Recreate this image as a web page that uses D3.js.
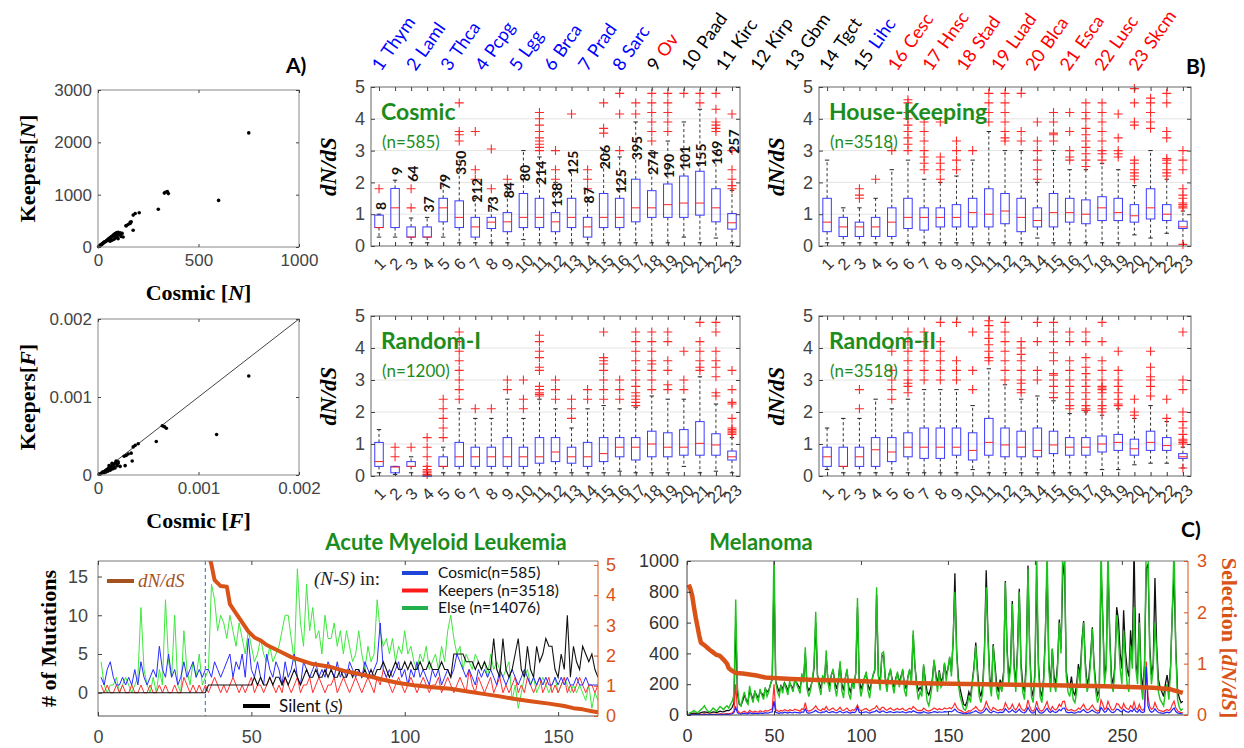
<!DOCTYPE html>
<html><head><meta charset="utf-8">
<script src="https://cdn.jsdelivr.net/npm/d3@7"></script>
<style>body{margin:0;background:#fff}</style>
</head><body>
<svg id="c" width="1244" height="748"></svg>
<script>
// ---------------- DATA ----------------
const cats = [1,2,3,4,5,6,7,8,9,10,11,12,13,14,15,16,17,18,19,20,21,22,23];
const tumorNames = ["Thym","Laml","Thca","Pcpg","Lgg","Brca","Prad","Sarc","Ov","Paad","Kirc","Kirp","Gbm","Tgct","Lihc","Cesc","Hnsc","Stad","Luad","Blca","Esca","Lusc","Skcm"];
const numGroup  = ["lo","lo","lo","lo","lo","lo","lo","lo","mid","mid","mid","mid","mid","mid","mid","hi","hi","hi","hi","hi","hi","hi","hi"];
const nameGroup = ["lo","lo","lo","lo","lo","lo","lo","lo","hi","mid","mid","mid","mid","mid","lo","hi","hi","hi","hi","hi","hi","hi","hi"];

// Panel A scatter (N)
const scNx = [750,600,330,335,345,350,300,205,185,175,165,160,150,140,175,120,110,100,95,90,85,80,75,70,65,60,55,50,45,40,35,30,25,20,15,10,5,3,8,12,18,22,28,32,38,42,48,52,58,62,68,72,78,82,88,92,98,105,115,125,80,60,70,90,100,160,140,95,110,85];
const scNy = [2180,890,1030,1045,1060,1020,720,655,640,610,480,450,430,410,320,260,230,280,270,260,250,240,220,200,190,170,160,140,130,110,100,90,70,55,40,30,15,8,20,35,50,65,80,95,105,120,135,150,165,180,195,210,230,245,255,265,270,240,200,190,150,110,130,180,160,470,400,200,270,210];
// Panel A scatter (F)
const scFx = [0.0015,0.00118,0.00066,0.00068,0.00064,0.00058,0.0004,0.00037,0.00035,0.00034,0.00033,0.0003,0.00028,0.00026,0.00027,0.0002,0.00018,0.00017,0.00016,0.00015,0.00014,0.00013,0.00012,0.00011,0.0001,0.00009,0.00008,0.00007,0.00006,0.00005,0.00004,0.00003,0.00002,0.00001,0.00019,0.00017,0.00015,0.00013,0.0002,0.00018,0.00014,0.00011,0.00016,0.00012,0.0001,0.00008,0.00006,0.00022,0.00019];
const scFy = [0.00127,0.00052,0.00062,0.0006,0.00063,0.00043,0.0004,0.00038,0.00036,0.00018,0.00028,0.00027,0.00025,0.00024,0.00012,0.00017,0.00016,0.00015,0.00014,0.00013,0.00012,0.00011,0.0001,0.00009,0.00008,0.00007,0.00006,0.00005,0.00004,0.00004,0.00003,0.00002,0.00001,0.00001,0.00012,0.00009,0.00008,0.00007,0.00015,0.00018,0.00015,0.00012,0.0001,0.00006,0.00005,0.00004,0.00003,0.00011,0.00014];

// Panel B boxplots: Cosmic
const cosQ1 = [0.58,0.58,0.28,0.28,0.76,0.58,0.28,0.55,0.45,0.58,0.58,0.45,0.58,0.28,0.58,0.58,0.76,0.9,0.9,0.9,0.97,0.76,0.53];
const cosMed = [0.58,1.2,0.28,0.28,1.2,0.9,0.6,0.75,0.76,0.9,0.9,0.76,0.9,0.6,0.9,0.9,1.2,1.2,1.3,1.35,1.35,1.2,0.73];
const cosQ3 = [0.97,1.81,0.6,0.6,1.5,1.42,0.9,0.9,1.05,1.65,1.5,1.05,1.5,0.9,1.65,1.5,2.1,1.74,1.95,2.2,2.35,1.8,1.02];
const cosLo = [0.28,0.28,0.1,0.1,0.28,0.1,0.1,0.1,0.1,0.2,0.1,0.1,0.1,0.1,0.1,0.1,0.1,0.1,0.1,0.28,0.1,0.25,0.1];
const cosHi = [1.0,2.07,0.88,0.9,2.2,2.8,1.5,1.5,1.8,3.0,2.8,2.0,2.4,1.5,3.0,2.8,3.9,3.0,3.3,3.9,4.3,3.0,1.75];
const cosOut = [[1.8],[],[1.2,1.8],[],[],[3.3,3.5,3.6,4.5],[2.1,2.4,3.6],[1.8,3.05],[2.1],[],[3.0,3.1,3.2,3.3,3.4,3.6,3.8,4.0,4.2],[2.1,2.4,3.0],[4.15],[1.8,2.1,2.4],[3.55,3.7,4.5],[3.0,4.15,4.8],[4.15,4.5],[3.3,3.6,3.9,4.2,4.5,4.8],[3.6,3.9,4.2,4.5,4.8],[4.8],[4.5,4.8],[3.6,3.7,3.8,3.9,4.3,4.8],[1.8,1.9,2.1,2.4,3.0,4.15]];
const cosCounts = [8,9,64,37,79,350,212,73,84,80,214,138,125,87,206,125,395,274,190,101,155,169,257];
const cosCountLevel = [1.13,2.23,2.02,1.05,1.76,2.23,1.37,1.05,1.5,2.04,1.92,1.23,2.23,1.34,2.41,1.65,2.7,2.23,2.13,2.39,2.46,2.55,2.9];
// House-Keeping
const hkQ1 = [0.45,0.3,0.3,0.3,0.3,0.55,0.5,0.6,0.6,0.6,0.6,0.7,0.45,0.6,0.6,0.75,0.7,0.8,0.8,0.75,0.85,0.8,0.55];
const hkMed = [0.75,0.6,0.6,0.6,0.75,0.9,0.9,0.9,0.9,1.05,1.0,1.1,0.9,0.8,1.05,1.05,1.0,1.2,1.05,0.95,1.2,1.0,0.6];
const hkQ3 = [1.5,0.9,0.75,0.9,1.2,1.5,1.2,1.2,1.3,1.5,1.8,1.65,1.5,1.2,1.65,1.5,1.45,1.55,1.5,1.3,1.8,1.3,0.78];
const hkLo = [0.1,0.1,0.1,0.1,0.1,0.1,0.1,0.1,0.1,0.1,0.1,0.1,0.1,0.25,0.1,0.1,0.1,0.1,0.1,0.35,0.25,0.4,0.05];
const hkHi = [2.7,1.2,1.2,1.5,2.4,2.7,2.1,2.0,2.2,2.7,3.6,3.0,3.0,2.0,3.0,2.4,2.4,2.6,2.4,1.9,3.0,2.1,1.1];
const hkOut = [[],[],[1.5,1.6,1.8],[2.1],[3.0],[3.0,3.2,3.4,3.6,3.8,4.0,4.2,4.5,4.6],[2.4,2.6,2.8,3.0,3.3,3.6,3.9],[2.1,2.4,2.6,2.8,3.9],[2.4,2.7,3.0,3.3],[3.0],[3.9,4.2,4.5,4.8],[3.3,3.4,3.6,3.9,4.2,4.5,4.8],[3.3,3.6,4.8],[2.1,2.4,2.7,3.0,3.3,3.9],[3.3,3.5,3.55,3.9,4.2],[2.7,2.8,3.0,3.6,4.2],[2.5,2.7,2.9,3.1,3.3,3.5,3.7,4.0,4.2,4.5],[2.7,2.9,3.0,3.3,3.6,3.9,4.2,4.5],[2.8,2.9,3.0,3.4,4.15],[2.1,2.2,2.3,2.4,2.6,2.7,3.8,3.9,4.5,4.95],[3.7,3.9,4.2,4.5,4.65],[2.2,2.3,2.4,2.6,2.7,2.75,3.4,3.6,4.5,4.8],[0.05,1.2,1.25,1.3,1.35,1.5,1.6,1.8,2.4,2.7,3.0]];
// Random-I
const r1Q1 = [0.3,0.1,0.3,0.02,0.3,0.3,0.3,0.3,0.3,0.3,0.4,0.45,0.4,0.3,0.45,0.6,0.5,0.6,0.6,0.65,0.65,0.65,0.5];
const r1Med = [0.45,0.28,0.3,0.02,0.3,0.6,0.6,0.6,0.6,0.6,0.6,0.75,0.6,0.6,0.7,0.9,0.9,1.0,0.9,0.9,1.02,0.97,0.6];
const r1Q3 = [1.05,0.3,0.45,0.02,0.6,1.05,0.9,0.9,1.2,0.9,1.2,1.2,0.9,1.05,1.2,1.2,1.2,1.4,1.35,1.45,1.7,1.32,0.78];
const r1Lo = [0.1,0.05,0.1,0.02,0.1,0.1,0.1,0.1,0.1,0.1,0.1,0.1,0.1,0.1,0.1,0.15,0.1,0.1,0.1,0.3,0.1,0.15,0.1];
const r1Hi = [1.45,0.3,0.6,0.02,0.9,2.1,1.8,1.8,2.4,1.8,2.4,2.1,1.5,2.1,2.2,2.1,2.15,2.5,2.4,2.4,3.1,2.25,1.2];
const r1Out = [[],[0.6,0.9],[0.9],[0.05,0.1,0.15,0.2,0.3,0.6,0.9,1.2],[1.2,1.5,1.8,2.1,2.4],[2.4,2.7,3.0,3.3,3.6,3.9,4.2,4.5],[2.1],[2.1],[2.7,3.0],[2.1,2.4,3.0],[2.5,2.55,2.6,2.7,2.8,3.3,3.4,3.7,3.9,4.2,4.4],[2.4,2.7,3.0],[1.8,2.1,2.4],[2.4,2.7],[2.4,2.7,3.0,3.3,3.5,3.6,3.7,4.5],[2.4,2.7,3.0],[2.2,2.3,2.4,2.5,2.6,2.8,3.0,3.3,3.6,3.9,4.2,4.5],[2.7,3.0,3.3,3.5,3.6,3.9,4.2,4.5],[2.7,2.85,3.3,3.6,4.2,4.5],[2.7,3.0,3.9],[3.3,3.4,3.6,3.9,4.2,4.8],[2.5,2.6,3.1,3.4,3.6,3.9,4.5,4.8],[1.3,1.35,1.4,1.45,1.5,1.8,2.25,2.3,2.7,3.3]];
// Random-II
const r2Q1 = [0.3,0.3,0.3,0.3,0.45,0.6,0.55,0.55,0.65,0.5,0.65,0.6,0.6,0.6,0.7,0.65,0.65,0.75,0.8,0.65,0.8,0.8,0.55];
const r2Med = [0.6,0.3,0.6,0.82,0.75,0.9,0.9,0.9,0.9,0.8,1.05,0.97,0.9,0.8,0.97,0.9,0.9,1.0,1.05,0.85,1.05,0.95,0.6];
const r2Q3 = [0.9,0.9,0.9,1.2,1.2,1.35,1.5,1.5,1.5,1.35,1.8,1.5,1.4,1.5,1.4,1.2,1.2,1.25,1.3,1.15,1.4,1.2,0.7];
const r2Lo = [0.2,0.1,0.1,0.1,0.1,0.1,0.1,0.1,0.1,0.2,0.1,0.1,0.1,0.1,0.1,0.1,0.1,0.2,0.2,0.35,0.4,0.4,0.25];
const r2Hi = [1.5,1.8,1.8,2.4,2.1,2.4,2.7,2.7,2.7,2.2,3.35,2.85,2.4,2.5,2.35,1.95,2.0,1.9,2.1,1.8,2.2,1.7,0.9];
const r2Out = [[],[],[2.1,2.7],[],[2.4,2.7,3.0,3.3,3.9],[2.6,2.8,2.9,3.0,3.3,3.6,3.9,4.2,4.5],[3.0,3.3,3.6,3.9,4.2,4.5],[3.0,3.3,3.6,3.9,4.2,4.8],[3.0,3.3,3.6,4.8],[2.7,3.3,4.5],[3.6,3.7,3.9,4.1,4.3,4.5,4.7,4.85],[3.0,3.3,3.6,3.9,4.2,4.5,4.8],[2.6,2.7,2.9,3.0,3.3,3.6,3.8,4.0,4.2],[3.0,3.3,4.2,4.8],[2.45,2.6,2.8,3.0,3.15,3.2,3.6,3.85,4.2,4.5,4.8],[2.1,2.2,2.4,2.6,2.8,3.0,3.3,3.6,4.2,4.5],[2.05,2.1,2.2,2.4,2.6,2.8,3.0,3.2,3.4,3.7,4.2,4.5],[2.0,2.1,2.2,2.4,2.6,2.7,2.75,2.8,3.0,3.3,3.6,4.2,4.8],[2.2,2.25,2.4,2.6,2.8,3.0,3.3,3.9],[1.9,2.0,2.4],[2.5,2.8,3.0,3.1,3.4,3.9],[1.8,2.4],[0.25,1.0,1.05,1.1,1.15,1.3,1.5,1.7,2.0,2.7,3.0,4.5]];

// Panel C: AML (x = 1..163), (N-S) counts
const amlElse = [4,1,0,1,1,2,0,1,2,1, 0,1,2,11,3,1,0,2,0,3, 1,12,4,2,10,1,0,8,3,1, 4,2,5,1,2,
 3,14,12,8,10,9,7,10,8,6, 9,7,5,8,6,4,5,7,5,4, 6,4,5,6,8,10,10,7,4,16, 9,6,14,8,11,7,8,5,10,7,
 7,9,6,8,5,8,6,4,5,8, 5,3,6,4,5,12,8,6,7,5, 7,4,6,5,8,5,6,4,3,5, 4,6,3,4,5,3,6,4,8,10,
 7,5,6,3,5,4,3,5,4,3, 4,2,5,3,4,3,2,3,4,-1, 1,-2,0,2,3,1,2,0,1,2, 1,0,1,2,0,1,2,1,0,1, 0,1,0,-1,1,-2,0,-1];
const amlCosmic = [2,1,3,4,2,1,1,2,1,2, 1,3,1,4,2,1,2,3,2,6, 3,2,5,2,3,1,2,4,2,3, 4,2,3,2,3,
 3,2,4,3,2,3,4,5,2,4, 3,5,2,7,3,2,4,2,1,5, 3,2,4,3,1,4,2,3,5,2, 1,4,3,2,3,4,2,3,2,4,
 3,2,4,2,3,2,4,3,2,3, 2,4,3,2,3,4,9,3,2,3, 2,3,4,2,3,1,3,2,4,2, 3,2,1,3,2,3,1,2,3,2,
 3,5,4,3,2,3,2,1,3,2, 3,2,3,2,1,3,2,1,2,3, 2,1,2,3,2,1,2,1,2,1, 2,1,1,2,1,2,1,2,1,1, 2,1,1,2,1,1,1,1];
const amlKeepers = [1,0,1,0,0,1,0,1,0,0, 1,0,0,1,0,0,1,0,0,1, 0,1,0,0,1,0,0,2,1,0, 1,0,1,0,1,
 0,1,2,1,0,1,0,1,2,1, 0,1,0,1,2,0,1,1,0,1, 2,1,0,1,0,2,1,0,1,2, 0,1,1,2,0,1,2,1,0,1,
 1,2,0,1,2,1,0,1,2,1, 0,1,2,1,0,2,1,3,2,1, 0,1,2,1,0,1,2,1,0,1, 2,1,0,1,1,2,0,1,2,1,
 0,1,2,1,0,3,1,0,2,1, 0,1,2,0,1,2,0,1,0,1, 2,0,1,0,2,1,0,1,2,0, 1,2,0,1,0,1,2,0,1,0, 1,2,1,0,1,1,0,1];
// silent S, x = 0..163
const amlSilent = [0,0,0,0,0,0,0,0,0,0, 0,0,0,0,0,0,0,0,0,0, 0,0,0,0,0,0,0,0,0,0, 0,0,0,0,0,0,
 1,1,1,1,1,1,1,1,1,1,1,1,1,1,1, 2,1,2,1,1,2,1,2,2,1, 2,1,2,3,2,1,2,3,2,2, 3,2,2,3,2,3,2,2,3,2,
 2,3,2,3,3,2,3,2,3,2, 3,3,4,3,2,3,4,3,3,4, 3,4,3,3,4,3,3,4,3,3, 3,4,3,3,2,5,5,5,5,4,
 4,4,3,4,3,4,3,3,7,3, 2,7,3,2,3,5,7,3,2,6, 3,2,6,4,5,7,6,6,3,2, 5,3,10,2,6,4,3,6,5,4, 5,3,2];
const amlRatioX = [36,37,38,39,40,42,43,45,47,49,51,53,55,57,60,63,66,70,76,80,87,93,98,103,109,115,120,125,131,136,141,147,152,155,158,161,163];
const amlRatioY = [5.4,5.0,4.5,4.4,4.3,4.28,3.7,3.4,3.1,2.8,2.6,2.5,2.35,2.25,2.1,1.95,1.85,1.72,1.62,1.5,1.35,1.2,1.09,1.02,0.95,0.9,0.82,0.74,0.65,0.56,0.49,0.41,0.33,0.26,0.22,0.16,0.12];

// Panel C: Melanoma (x = 1..285)
const melElse = [10,15,20,30,20,15,25,35,45,60, 40,25,20,30,45,35,25,40,55,45, 35,50,60,45,70,90,130,750,180,80,
 60,110,150,90,70,190,120,80,160,110, 90,170,130,100,180,120,150,200,240,1100, 210,150,120,190,140,210,170,130,220,180,
 150,240,200,170,140,270,210,440,170,120, 160,230,320,670,250,180,130,260,200,420, 210,150,260,300,180,120,220,350,160,110,
 240,300,140,100,210,170,280,760,200,120, 180,240,280,160,110,200,260,300,830,250, 160,400,410,220,150,260,300,200,140,230,
 280,180,240,300,160,120,250,300,200,550, 330,180,100,150,120,330,200,90,60,120, 200,360,250,150,280,180,200,340,220,300,
 380,250,500,800,400,200,120,80,40,30, 60,120,80,200,300,450,250,120,80,150, 400,830,500,200,120,450,300,150,100,200,
 150,250,860,400,200,300,720,300,150,400, 800,300,150,100,300,950,400,120,80,250, 1100,300,120,80,200,500,1100,300,150,430,
 200,150,300,600,400,1100,1100,250,150,120, 200,100,80,150,300,200,450,600,300,150, 200,350,560,300,150,80,120,1100,600,200,
 300,1100,500,200,150,300,650,500,300,200, 550,350,200,150,450,300,700,300,200,600, 200,100,300,1100,1100,400,200,300,600,400,
 150,100,80,60,150,200,100,300,700,1100, 400,100,50,30,40];
const melSilent = [5,8,10,12,10,8,10,15,18,20, 18,15,12,15,20,18,15,20,25,22, 20,25,30,28,35,50,80,600,140,70,
 60,90,130,100,80,160,130,100,150,130, 110,150,140,120,170,150,160,200,230,900, 220,180,150,190,170,210,190,160,200,190,
 170,220,210,190,170,250,220,400,190,160, 180,220,300,600,260,210,170,250,220,380, 230,190,260,290,210,170,230,330,200,160,
 240,290,180,150,210,200,270,700,230,170, 200,240,270,200,160,210,260,290,780,260, 200,380,390,240,190,260,290,230,180,240,
 270,210,250,290,200,170,250,290,230,520, 320,210,160,180,160,320,230,150,130,170, 230,350,270,200,290,220,240,330,260,300,
 370,280,480,920,420,240,170,120,70,60, 90,150,120,220,320,470,290,160,120,190, 430,940,530,250,160,460,330,200,150,230,
 190,280,870,430,240,330,740,330,200,430, 820,340,200,150,340,970,430,170,120,280, 900,340,160,120,240,530,950,340,190,430,
 250,200,330,620,430,900,1000,290,200,180, 250,150,130,200,330,250,480,610,340,200, 240,380,570,330,200,130,160,950,640,250,
 330,980,530,250,200,330,700,620,400,300, 680,420,300,250,550,380,1100,340,260,660, 270,170,330,950,980,450,260,330,890,450,
 230,180,150,120,200,260,170,320,680,900, 430,160,110,80,90];
const melKeepers = [2,3,4,5,4,3,4,5,6,8, 6,5,4,5,6,5,4,6,8,7, 6,8,9,8,10,15,25,200,30,15,
 12,20,25,18,15,30,22,18,25,20, 18,28,22,20,30,25,28,35,40,200, 35,28,22,30,25,35,30,25,35,30,
 28,38,33,30,25,40,35,80,30,25, 28,35,45,60,40,32,28,40,35,55, 35,30,40,45,32,28,38,50,32,28,
 38,45,30,25,35,30,42,65,35,28, 32,38,42,32,26,34,40,45,60,40, 32,50,50,36,30,40,45,36,30,38,
 42,34,38,44,32,28,38,44,36,55, 45,34,28,30,28,45,36,28,25,30, 36,45,40,32,42,35,36,45,40,42,
 48,40,55,76,50,36,30,25,18,15, 20,28,25,35,42,55,40,28,25,32, 50,87,60,36,28,50,42,32,28,36,
 32,40,80,55,36,45,70,45,32,50, 75,45,32,28,45,98,55,30,25,40, 90,45,28,25,36,60,87,45,32,55,
 38,32,45,70,55,87,90,40,32,30, 36,28,25,32,45,36,55,70,45,32, 36,50,65,45,32,25,30,98,70,36,
 45,90,60,36,32,45,75,70,50,40, 75,50,40,36,60,45,85,45,36,70, 40,30,45,348,120,55,36,45,80,50,
 32,28,25,22,30,36,28,40,70,90, 45,28,20,15,15];
const melCosmic = [1,2,2,3,2,2,2,3,3,4, 3,3,2,3,3,3,2,3,4,4, 3,4,5,4,5,8,15,50,15,8,
 6,10,12,9,8,15,11,9,12,10, 9,14,11,10,15,12,14,18,20,90, 18,14,11,15,12,18,15,12,18,15,
 14,19,16,15,12,20,18,40,15,12, 14,18,22,30,20,16,14,20,18,28, 18,15,20,22,16,14,19,25,16,14,
 19,22,15,12,18,15,21,50,18,14, 16,19,21,16,13,17,20,22,30,20, 16,25,25,18,15,20,22,18,15,19,
 21,17,19,22,16,14,19,22,18,28, 22,17,14,15,14,22,18,14,12,15, 18,22,20,16,21,18,18,22,20,21,
 24,20,28,38,25,18,15,12,9,8, 10,14,12,18,21,28,20,14,12,16, 25,44,30,18,14,25,21,16,14,18,
 16,20,40,28,18,22,35,22,16,25, 38,22,16,14,22,49,28,15,12,20, 45,22,14,12,18,30,44,22,16,28,
 19,16,22,35,28,44,45,20,16,15, 18,14,12,16,22,18,28,35,22,16, 18,25,32,22,16,12,15,49,35,18,
 22,45,30,18,16,22,38,35,25,20, 38,25,20,18,30,22,42,22,18,35, 20,15,22,315,60,28,18,22,40,25,
 16,14,12,11,15,18,14,20,35,45, 22,14,10,8,8];
const melRatioX = [1,2,3,4,5,6,7,8,10,13,15,17,19,21,23,24,26,28,32,36,40,45,50,60,75,89,110,134,170,210,240,268,278,285];
const melRatioY = [2.54,2.45,2.32,2.1,1.9,1.73,1.55,1.41,1.36,1.27,1.22,1.17,1.15,1.08,1.0,0.91,0.86,0.82,0.81,0.79,0.77,0.73,0.72,0.70,0.68,0.67,0.65,0.62,0.6,0.58,0.56,0.53,0.5,0.43];

// ---------------- DRAWING ----------------
const svg = d3.select('#c');
svg.append('rect').attr('width',1244).attr('height',748).attr('fill','#fff');
const SANS = "'Liberation Sans', Arial, sans-serif";
const SERIF = "'Liberation Serif', 'Times New Roman', serif";
const CAL = "Lato, 'Open Sans', sans-serif";
const GREEN = '#1c8c1c', ORANGE = '#D95319';
const groupColor = {lo:'#0000ff', mid:'#000000', hi:'#ff0000'};
const intFmt = d3.format('d');

function styleAxis(sel, color, size){
  sel.select('.domain').remove();
  sel.selectAll('.tick line').attr('stroke', color || '#444');
  sel.selectAll('.tick text').attr('fill', color || '#262626')
     .style('font-family', SANS).style('font-size', (size||16)+'px');
}
function frame(g, P, color){
  g.append('rect').attr('x',P.L).attr('y',P.T).attr('width',P.R-P.L).attr('height',P.B-P.T)
   .attr('fill','none').attr('stroke',color||'#777').attr('stroke-width',1);
}

// ----- scatter panels (A)
function scatterPanel(P){
  const g = svg.append('g');
  const x = d3.scaleLinear().domain(P.xd).range([P.L,P.R]);
  const y = d3.scaleLinear().domain(P.yd).range([P.B,P.T]);
  if (P.diag) g.append('line').attr('x1',x(P.xd[0])).attr('y1',y(P.yd[0])).attr('x2',x(P.xd[1])).attr('y2',y(P.yd[1]))
     .attr('stroke','#444').attr('stroke-width',1);
  g.selectAll('circle').data(P.xs).join('circle')
   .attr('cx',d=>x(d)).attr('cy',(d,i)=>y(P.ys[i])).attr('r',1.8).attr('fill','#000');
  frame(g,P,'#888');
  const fmt = d => d===0 ? '0' : String(d);
  g.append('g').attr('transform',`translate(${P.L},0)`)
   .call(d3.axisLeft(y).tickValues(P.yt).tickFormat(fmt).tickSizeInner(-3).tickSizeOuter(0).tickPadding(6)).call(styleAxis,'#444',17);
  g.append('g').attr('transform',`translate(0,${P.B})`)
   .call(d3.axisBottom(x).tickValues(P.xt).tickFormat(fmt).tickSizeInner(-3).tickSizeOuter(0).tickPadding(7)).call(styleAxis,'#444',17);
  g.append('g').attr('transform',`translate(${P.R},0)`)
   .call(d3.axisRight(y).tickValues(P.yt).tickFormat('').tickSizeInner(-3).tickSizeOuter(0)).call(styleAxis,'#444');
  g.append('g').attr('transform',`translate(0,${P.T})`)
   .call(d3.axisTop(x).tickValues(P.xt).tickFormat('').tickSizeInner(-3).tickSizeOuter(0)).call(styleAxis,'#444');
  const yl = g.append('text').attr('transform',`translate(35,${(P.T+P.B)/2}) rotate(-90)`)
    .attr('text-anchor','middle').style('font-family',SERIF).style('font-weight','bold').style('font-size','22px');
  yl.append('tspan').text('Keepers[');
  yl.append('tspan').style('font-style','italic').text(P.v);
  yl.append('tspan').text(']');
  const xl = g.append('text').attr('x',(P.L+P.R)/2).attr('y',P.xlabY).attr('text-anchor','middle')
    .style('font-family',SERIF).style('font-weight','bold').style('font-size','22px');
  xl.append('tspan').text('Cosmic [');
  xl.append('tspan').style('font-style','italic').text(P.v);
  xl.append('tspan').text(']');
}
scatterPanel({L:98,R:299,T:90,B:247,xd:[0,1000],yd:[0,3000],xt:[0,500,1000],yt:[0,1000,2000,3000],xs:scNx,ys:scNy,v:'N',xlabY:300});
scatterPanel({L:98,R:299,T:319,B:475,xd:[0,0.002],yd:[0,0.002],xt:[0,0.001,0.002],yt:[0,0.001,0.002],xs:scFx,ys:scFy,v:'F',xlabY:528,diag:true});

// ----- box panels (B)
function boxPanel(P){
  const g = svg.append('g');
  const x = d3.scaleLinear().domain([0.5,23.5]).range([P.L,P.R]);
  const y = d3.scaleLinear().domain([0,5]).range([P.B,P.T]);
  g.selectAll('line.grid').data([1,2,3,4]).join('line').attr('class','grid')
   .attr('x1',P.L).attr('x2',P.R).attr('y1',d=>y(d)).attr('y2',d=>y(d)).attr('stroke','#e4e4e4');
  const bw = 8.5, cap = 2.2;
  const items = cats.map((c,i)=>({c, q1:P.q1[i], med:P.med[i], q3:P.q3[i], lo:P.lo[i], hi:P.hi[i], out:P.out[i]}));
  const bx = g.selectAll('g.box').data(items).join('g').attr('class','box');
  bx.append('line').attr('x1',d=>x(d.c)).attr('x2',d=>x(d.c)).attr('y1',d=>y(d.q3)).attr('y2',d=>y(d.hi))
    .attr('stroke','#333').attr('stroke-dasharray','3,2.5');
  bx.append('line').attr('x1',d=>x(d.c)).attr('x2',d=>x(d.c)).attr('y1',d=>y(d.q1)).attr('y2',d=>y(d.lo))
    .attr('stroke','#333').attr('stroke-dasharray','3,2.5');
  bx.append('line').attr('x1',d=>x(d.c)-cap).attr('x2',d=>x(d.c)+cap).attr('y1',d=>y(d.hi)).attr('y2',d=>y(d.hi)).attr('stroke','#222');
  bx.append('line').attr('x1',d=>x(d.c)-cap).attr('x2',d=>x(d.c)+cap).attr('y1',d=>y(d.lo)).attr('y2',d=>y(d.lo)).attr('stroke','#222');
  bx.append('rect').attr('x',d=>x(d.c)-bw/2).attr('y',d=>y(d.q3)).attr('width',bw).attr('height',d=>Math.max(1,y(d.q1)-y(d.q3)))
    .attr('fill','none').attr('stroke','#3b3bff').attr('stroke-width',1);
  bx.append('line').attr('x1',d=>x(d.c)-bw/2).attr('x2',d=>x(d.c)+bw/2).attr('y1',d=>y(d.med)).attr('y2',d=>y(d.med))
    .attr('stroke','#ff2020').attr('stroke-width',1);
  bx.selectAll('path.out').data(d=>d.out.map(v=>({c:d.c,v}))).join('path').attr('class','out')
    .attr('d',d=>`M${x(d.c)-4.5},${y(d.v)}h9M${x(d.c)},${y(d.v)-4.5}v9`).attr('stroke','#ff2a2a').attr('stroke-width',1.1);
  frame(g,P,'#666');
  g.append('g').attr('transform',`translate(${P.L},0)`)
   .call(d3.axisLeft(y).tickValues([0,1,2,3,4,5]).tickFormat(intFmt).tickSizeInner(-4).tickSizeOuter(0).tickPadding(6)).call(styleAxis,'#444',18);
  g.append('g').attr('transform',`translate(${P.R},0)`)
   .call(d3.axisRight(y).tickValues([0,1,2,3,4,5]).tickFormat('').tickSizeInner(-4).tickSizeOuter(0)).call(styleAxis,'#444');
  g.append('g').attr('transform',`translate(0,${P.T})`)
   .call(d3.axisTop(x).tickValues(cats).tickFormat('').tickSizeInner(-4).tickSizeOuter(0)).call(styleAxis,'#444');
  const ax = g.append('g').attr('transform',`translate(0,${P.B})`)
   .call(d3.axisBottom(x).tickValues(cats).tickFormat(intFmt).tickSizeInner(-4).tickSizeOuter(0)).call(styleAxis,'#333',16.5);
  ax.selectAll('.tick text').attr('y',0).attr('dy',0).attr('transform','translate(4,22) rotate(-45)').style('text-anchor','middle');
  g.append('text').attr('x',P.L+10).attr('y',P.T+33).text(P.title)
   .style('font-family',CAL).style('font-weight','bold').style('font-size','23px').attr('fill',GREEN);
  g.append('text').attr('x',P.L+11).attr('y',P.T+61).text(P.n)
   .style('font-family',CAL).style('font-size','17px').attr('fill',GREEN);
  if (P.counts){
    g.selectAll('text.cnt').data(P.counts).join('text').attr('class','cnt')
     .attr('transform',(d,i)=>`translate(${x(cats[i])+1.5},${y(P.countLevel[i])}) rotate(-90)`)
     .attr('dy','0.36em').text(d=>d)
     .style('font-family',CAL).style('font-weight','bold').style('font-size','14px').attr('fill','#111');
  }
  g.append('text').attr('transform',`translate(${P.L-35},${(P.T+P.B)/2}) rotate(-90)`).attr('text-anchor','middle')
    .style('font-family',SERIF).style('font-style','italic').style('font-weight','bold').style('font-size','23px').text('dN/dS');
}
boxPanel({L:371,R:740,T:87,B:246,q1:cosQ1,med:cosMed,q3:cosQ3,lo:cosLo,hi:cosHi,out:cosOut,title:'Cosmic',n:'(n=585)',counts:cosCounts,countLevel:cosCountLevel});
boxPanel({L:819,R:1191,T:87,B:246,q1:hkQ1,med:hkMed,q3:hkQ3,lo:hkLo,hi:hkHi,out:hkOut,title:'House-Keeping',n:'(n=3518)'});
boxPanel({L:371,R:740,T:316,B:476,q1:r1Q1,med:r1Med,q3:r1Q3,lo:r1Lo,hi:r1Hi,out:r1Out,title:'Random-I',n:'(n=1200)'});
boxPanel({L:819,R:1191,T:316,B:476,q1:r2Q1,med:r2Med,q3:r2Q3,lo:r2Lo,hi:r2Hi,out:r2Out,title:'Random-II',n:'(n=3518)'});

// header tumour labels (each label is its own rotated group)
const hdr = svg.append('g');
const hg = hdr.selectAll('g.hl').data(tumorNames).join('g').attr('class','hl')
  .attr('transform',(d,i)=>`translate(${381 + i*34.4},72) rotate(-55)`);
hg.append('text').attr('x',0).attr('y',0)
  .style('font-family',CAL).style('font-size','18px')
  .each(function(d,i){
    const t = d3.select(this);
    t.append('tspan').attr('fill',groupColor[numGroup[i]]).text(cats[i]);
    t.append('tspan').attr('dx',6).attr('fill',groupColor[nameGroup[i]]).text(d);
  });

// panel letters
[['A)',286,73],['B)',1186,74],['C)',1181,537]].forEach(([t,x,y])=>{
  svg.append('text').attr('x',x).attr('y',y).text(t).style('font-family',CAL).style('font-weight','bold').style('font-size','21px').attr('fill','#000');
});

// ----- AML line panel
(function(){
  const P = {L:98,R:598,T:561,B:716};
  const g = svg.append('g');
  const x = d3.scaleLinear().domain([0,163]).range([P.L,P.R]);
  const yL = d3.scaleLinear().domain([-3,17]).range([P.B,P.T]);
  const yR = d3.scaleLinear().domain([0,5.13]).range([P.B,P.T]);
  svg.append('clipPath').attr('id','clipA').append('rect').attr('x',P.L).attr('y',P.T).attr('width',P.R-P.L).attr('height',P.B-P.T);
  const pl = g.append('g').attr('clip-path','url(#clipA)');
  const line = d3.line().x((d,i)=>x(i+1)).y(d=>yL(d));
  pl.append('path').attr('d',line(amlElse)).attr('fill','none').attr('stroke','#3ee83e').attr('stroke-width',1);
  pl.append('path').attr('d',line(amlKeepers)).attr('fill','none').attr('stroke','#ff3030').attr('stroke-width',1);
  pl.append('path').attr('d',line(amlCosmic)).attr('fill','none').attr('stroke','#2a2aff').attr('stroke-width',1);
  pl.append('path').attr('d',d3.line().x((d,i)=>x(i)).y(d=>yL(d))(amlSilent)).attr('fill','none').attr('stroke','#111').attr('stroke-width',1.1);
  pl.append('line').attr('x1',x(35)).attr('x2',x(35)).attr('y1',P.T).attr('y2',P.B).attr('stroke','#4a86d8').attr('stroke-width',1.2).attr('stroke-dasharray','4,3');
  pl.append('path').attr('d',d3.line().x(d=>x(d)).y((d,i)=>yR(amlRatioY[i]))(amlRatioX))
    .attr('fill','none').attr('stroke',ORANGE).attr('stroke-width',4).attr('stroke-linejoin','round');
  g.append('line').attr('x1',P.L).attr('x2',P.R).attr('y1',P.T).attr('y2',P.T).attr('stroke','#777');
  g.append('line').attr('x1',P.L).attr('x2',P.L).attr('y1',P.T).attr('y2',P.B).attr('stroke','#777');
  g.append('line').attr('x1',P.L).attr('x2',P.R).attr('y1',P.B).attr('y2',P.B).attr('stroke','#555');
  g.append('line').attr('x1',P.R).attr('x2',P.R).attr('y1',P.T).attr('y2',P.B).attr('stroke',ORANGE);
  g.append('g').attr('transform',`translate(${P.L},0)`)
   .call(d3.axisLeft(yL).tickValues([0,5,10,15]).tickFormat(intFmt).tickSizeInner(-4).tickSizeOuter(0).tickPadding(10)).call(styleAxis,'#444',18);
  g.append('g').attr('transform',`translate(0,${P.B})`)
   .call(d3.axisBottom(x).tickValues([0,50,100,150]).tickFormat(intFmt).tickSizeInner(-4).tickSizeOuter(0).tickPadding(14)).call(styleAxis,'#444',18);
  g.append('g').attr('transform',`translate(0,${P.T})`)
   .call(d3.axisTop(x).tickValues([0,50,100,150]).tickFormat('').tickSizeInner(-4).tickSizeOuter(0)).call(styleAxis,'#444');
  g.append('g').attr('transform',`translate(${P.R},0)`)
   .call(d3.axisRight(yR).tickValues([0,1,2,3,4,5]).tickFormat(intFmt).tickSizeInner(-4).tickSizeOuter(0).tickPadding(8)).call(styleAxis,ORANGE,18);
  g.append('text').attr('x',446).attr('y',550).attr('text-anchor','middle').text('Acute Myeloid Leukemia')
   .style('font-family',CAL).style('font-weight','bold').style('font-size','22px').attr('fill',GREEN);
  g.append('text').attr('transform',`translate(56,${(P.T+P.B)/2}) rotate(-90)`).attr('text-anchor','middle').text('# of Mutations')
   .style('font-family',SERIF).style('font-weight','bold').style('font-size','22px').attr('fill','#000');
  g.append('line').attr('x1',107).attr('x2',134).attr('y1',581).attr('y2',581).attr('stroke','#a4521f').attr('stroke-width',4);
  g.append('text').attr('x',138).attr('y',587).text('dN/dS').style('font-family',SERIF).style('font-style','italic').style('font-size','19px').attr('fill','#a4521f');
  const lt = g.append('text').attr('x',314).attr('y',585).style('font-family',SERIF).style('font-size','19px').attr('fill','#222');
  lt.append('tspan').style('font-style','italic').text('(N-S)');
  lt.append('tspan').text(' in:');
  const legItems = [['Cosmic(n=585)','#1f45d6'],['Keepers (n=3518)','#ff1a1a'],['Else (n=14076)','#22b04a']];
  legItems.forEach(([t,c],i)=>{
    g.append('line').attr('x1',402).attr('x2',428).attr('y1',573+i*17.5).attr('y2',573+i*17.5).attr('stroke',c).attr('stroke-width',4);
    g.append('text').attr('x',438).attr('y',578+i*17.5).text(t).style('font-family',CAL).style('font-size','15.5px').attr('fill','#111');
  });
  g.append('line').attr('x1',243).attr('x2',270).attr('y1',706).attr('y2',706).attr('stroke','#000').attr('stroke-width',4);
  const st = g.append('text').attr('x',279).attr('y',712).style('font-family',CAL).style('font-size','17px').attr('fill','#111');
  st.append('tspan').text('Silent (');
  st.append('tspan').style('font-family',SERIF).style('font-style','italic').text('S');
  st.append('tspan').text(')');
})();

// ----- Melanoma line panel
(function(){
  const P = {L:687,R:1188,T:561,B:715};
  const g = svg.append('g');
  const x = d3.scaleLinear().domain([0,288]).range([P.L,P.R]);
  const yL = d3.scaleLinear().domain([0,1000]).range([P.B,P.T]);
  const yR = d3.scaleLinear().domain([0,3]).range([P.B,P.T]);
  svg.append('clipPath').attr('id','clipM').append('rect').attr('x',P.L).attr('y',P.T).attr('width',P.R-P.L).attr('height',P.B-P.T);
  const pl = g.append('g').attr('clip-path','url(#clipM)');
  const line = d3.line().x((d,i)=>x(i+1)).y(d=>yL(d));
  pl.append('path').attr('d',line(melSilent)).attr('fill','none').attr('stroke','#111').attr('stroke-width',1.3);
  pl.append('path').attr('d',line(melElse)).attr('fill','none').attr('stroke','#1ec41e').attr('stroke-width',1.4);
  pl.append('path').attr('d',line(melKeepers)).attr('fill','none').attr('stroke','#ff2a2a').attr('stroke-width',1.2);
  pl.append('path').attr('d',line(melCosmic)).attr('fill','none').attr('stroke','#2222ff').attr('stroke-width',1.2);
  pl.append('path').attr('d',d3.line().x(d=>x(d)).y((d,i)=>yR(melRatioY[i]))(melRatioX))
    .attr('fill','none').attr('stroke',ORANGE).attr('stroke-width',4.5).attr('stroke-linejoin','round');
  g.append('line').attr('x1',P.L).attr('x2',P.R).attr('y1',P.T).attr('y2',P.T).attr('stroke','#777');
  g.append('line').attr('x1',P.L).attr('x2',P.L).attr('y1',P.T).attr('y2',P.B).attr('stroke','#444');
  g.append('line').attr('x1',P.L).attr('x2',P.R).attr('y1',P.B).attr('y2',P.B).attr('stroke','#444');
  g.append('line').attr('x1',P.R).attr('x2',P.R).attr('y1',P.T).attr('y2',P.B).attr('stroke',ORANGE);
  g.append('g').attr('transform',`translate(${P.L},0)`)
   .call(d3.axisLeft(yL).tickValues([0,200,400,600,800,1000]).tickFormat(intFmt).tickSizeInner(-4).tickSizeOuter(0).tickPadding(8)).call(styleAxis,'#333',18);
  g.append('g').attr('transform',`translate(0,${P.B})`)
   .call(d3.axisBottom(x).tickValues([0,50,100,150,200,250]).tickFormat(intFmt).tickSizeInner(-4).tickSizeOuter(0).tickPadding(14)).call(styleAxis,'#333',18);
  g.append('g').attr('transform',`translate(0,${P.T})`)
   .call(d3.axisTop(x).tickValues([0,50,100,150,200,250]).tickFormat('').tickSizeInner(-4).tickSizeOuter(0)).call(styleAxis,'#444');
  g.append('g').attr('transform',`translate(${P.R},0)`)
   .call(d3.axisRight(yR).tickValues([0,1,2,3]).tickFormat(intFmt).tickSizeInner(-4).tickSizeOuter(0).tickPadding(9)).call(styleAxis,ORANGE,18);
  g.append('g').attr('transform',`translate(${P.R},0)`)
   .call(d3.axisRight(yR).tickValues([0.6,1.2,1.8,2.4]).tickFormat('').tickSizeInner(-3).tickSizeOuter(0)).call(styleAxis,'#555');
  g.append('text').attr('x',761).attr('y',550).attr('text-anchor','middle').text('Melanoma')
   .style('font-family',CAL).style('font-weight','bold').style('font-size','22px').attr('fill',GREEN);
  const rl = g.append('text').attr('transform',`translate(1222,${(P.T+P.B)/2}) rotate(90)`).attr('text-anchor','middle')
   .style('font-family',SERIF).style('font-weight','bold').style('font-size','22px').attr('fill',ORANGE);
  rl.append('tspan').text('Selection [');
  rl.append('tspan').style('font-style','italic').text('dN/dS');
  rl.append('tspan').text(']');
})();
</script>
</body></html>
